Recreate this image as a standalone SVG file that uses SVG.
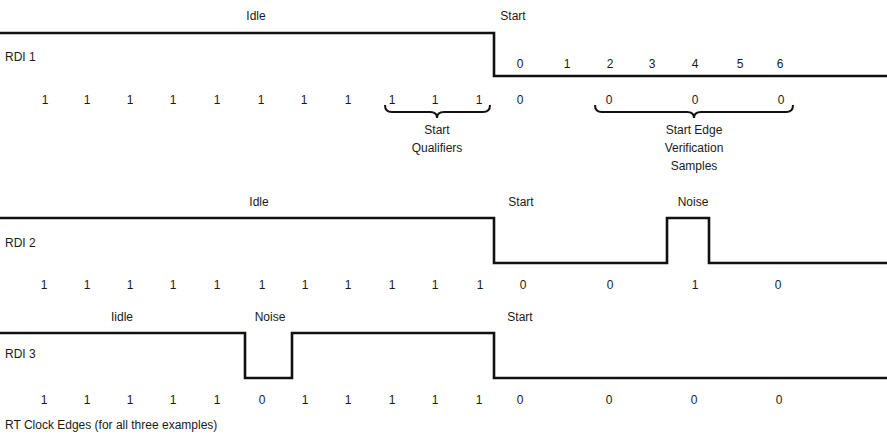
<svg xmlns="http://www.w3.org/2000/svg" width="887" height="437" viewBox="0 0 887 437">
<style>
text{font-family:"Liberation Sans",Arial,sans-serif;font-size:12px;fill:#1a1a1a}
.m{text-anchor:middle}
.sig{fill:none;stroke:#111;stroke-width:2.6;stroke-linejoin:miter}
.br{fill:none;stroke:#111;stroke-width:2}
</style>
<rect width="887" height="437" fill="#fff"/>
<g id="connectors">
<path class="sig" d="M0,33 H494 V76 H887"/>
<path class="sig" d="M0,218 H494 V263 H667 V218 H709 V263 H887"/>
<path class="sig" d="M0,333 H245 V378 H292 V333 H494 V378 H887"/>
<path class="br" d="M385,105 Q385,112 392,112 H430 Q437,112 437,118 Q437,112 444,112 H483 Q490,112 490,105"/>
<path class="br" d="M595,105 Q595,112 602,112 H687 Q694,112 694,118 Q694,112 701,112 H786 Q793,112 793,105"/>
</g>
<g id="rdi1">
<text class="m" x="256" y="20">Idle</text>
<text class="m" x="513" y="20">Start</text>
<text x="5" y="61">RDI 1</text>
<text class="m" x="520" y="68">0</text>
<text class="m" x="567" y="68">1</text>
<text class="m" x="610" y="68">2</text>
<text class="m" x="652" y="68">3</text>
<text class="m" x="695" y="68">4</text>
<text class="m" x="740" y="68">5</text>
<text class="m" x="780" y="68">6</text>
<text class="m" x="45" y="104">1</text>
<text class="m" x="87" y="104">1</text>
<text class="m" x="130" y="104">1</text>
<text class="m" x="173" y="104">1</text>
<text class="m" x="217" y="104">1</text>
<text class="m" x="261" y="104">1</text>
<text class="m" x="304" y="104">1</text>
<text class="m" x="348" y="104">1</text>
<text class="m" x="392" y="104">1</text>
<text class="m" x="435" y="104">1</text>
<text class="m" x="479" y="104">1</text>
<text class="m" x="520" y="104">0</text>
<text class="m" x="609" y="104">0</text>
<text class="m" x="695" y="104">0</text>
<text class="m" x="781" y="104">0</text>
</g>
<g id="qualifiers">
<text class="m" x="437" y="134">Start</text>
<text class="m" x="437" y="152">Qualifiers</text>
</g>
<g id="verification">
<text class="m" x="694" y="134">Start Edge</text>
<text class="m" x="694" y="152">Verification</text>
<text class="m" x="694" y="170">Samples</text>
</g>
<g id="rdi2">
<text class="m" x="259" y="206">Idle</text>
<text class="m" x="521" y="206">Start</text>
<text class="m" x="693" y="206">Noise</text>
<text x="5" y="247">RDI 2</text>
<text class="m" x="44" y="289">1</text>
<text class="m" x="87" y="289">1</text>
<text class="m" x="130" y="289">1</text>
<text class="m" x="173" y="289">1</text>
<text class="m" x="217" y="289">1</text>
<text class="m" x="262" y="289">1</text>
<text class="m" x="305" y="289">1</text>
<text class="m" x="348" y="289">1</text>
<text class="m" x="392" y="289">1</text>
<text class="m" x="435" y="289">1</text>
<text class="m" x="480" y="289">1</text>
<text class="m" x="523" y="289">0</text>
<text class="m" x="610" y="289">0</text>
<text class="m" x="695" y="289">1</text>
<text class="m" x="778" y="289">0</text>
</g>
<g id="rdi3">
<text class="m" x="122" y="321">Iidle</text>
<text class="m" x="270" y="321">Noise</text>
<text class="m" x="520" y="321">Start</text>
<text x="5" y="358">RDI 3</text>
<text class="m" x="44" y="404">1</text>
<text class="m" x="87" y="404">1</text>
<text class="m" x="130" y="404">1</text>
<text class="m" x="173" y="404">1</text>
<text class="m" x="217" y="404">1</text>
<text class="m" x="262" y="404">0</text>
<text class="m" x="305" y="404">1</text>
<text class="m" x="348" y="404">1</text>
<text class="m" x="392" y="404">1</text>
<text class="m" x="435" y="404">1</text>
<text class="m" x="479" y="404">1</text>
<text class="m" x="520" y="404">0</text>
<text class="m" x="609" y="404">0</text>
<text class="m" x="694" y="404">0</text>
<text class="m" x="779" y="404">0</text>
<text x="5" y="429">RT Clock Edges (for all three examples)</text>
</g>
</svg>
